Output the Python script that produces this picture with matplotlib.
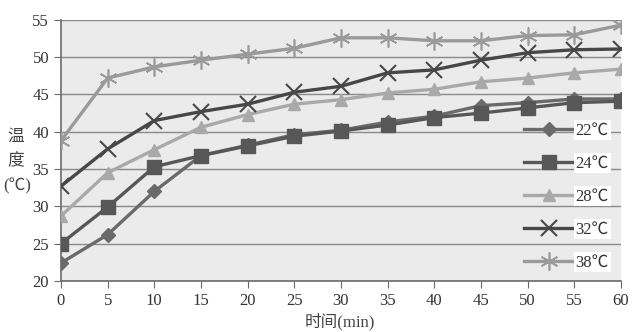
import matplotlib
matplotlib.use("Agg")
import matplotlib.pyplot as plt

time_min = [0, 5, 10, 15, 20, 25, 30, 35, 40, 45, 50, 55, 60]
t22 = [22.4, 26.2, 32.0, 36.8, 38.2, 39.6, 40.2, 41.3, 42.1, 43.5, 43.9, 44.4, 44.4]
t24 = [25.0, 29.9, 35.3, 36.8, 38.1, 39.4, 40.1, 40.9, 41.9, 42.5, 43.2, 43.9, 44.1]
t28 = [28.7, 34.5, 37.6, 40.6, 42.3, 43.7, 44.3, 45.2, 45.7, 46.7, 47.2, 47.9, 48.4]
t32 = [32.7, 37.7, 41.5, 42.7, 43.7, 45.3, 46.1, 47.9, 48.3, 49.6, 50.6, 51.0, 51.1]
t38 = [38.8, 47.2, 48.7, 49.6, 50.4, 51.2, 52.6, 52.6, 52.2, 52.2, 52.9, 53.0, 54.3]
labels = ["22℃", "24℃", "28℃", "32℃", "38℃"]
xticks = [0, 5, 10, 15, 20, 25, 30, 35, 40, 45, 50, 55, 60]
yticks = [20, 25, 30, 35, 40, 45, 50, 55]

plt.rcParams["font.family"] = ["Liberation Serif", "Noto Sans CJK SC", "DejaVu Sans"]
cjk = ["Noto Sans CJK SC", "DejaVu Sans"]

fig = plt.figure(figsize=(6.42, 3.32), dpi=100)
ax = fig.add_axes([0.095, 0.154, 0.872, 0.786])
ax.set_facecolor("#ebebeb")

styles = [
    dict(color="#6a6a6a", marker="D", markersize=7),
    dict(color="#575757", marker="s", markersize=10),
    dict(color="#a9a9a9", marker="^", markersize=9),
    dict(color="#474747", marker="x", markersize=11, markeredgewidth=1.5),
    dict(color="#9a9a9a", marker=(6, 2, 0), markersize=13, markeredgewidth=1.2),
]
series = [t22, t24, t28, t32, t38]
for ys, lab, st in zip(series, labels, styles):
    ax.plot(time_min, ys, linewidth=2.4, label=lab, zorder=3, **st)

ax.set_xlim(0, 60)
ax.set_ylim(20, 55)
ax.set_xticks(xticks)
ax.set_yticks(yticks)
ax.yaxis.grid(True, color="#8a8a8a", linewidth=1.0)
ax.set_axisbelow(True)
for s in ["top", "right"]:
    ax.spines[s].set_visible(False)
ax.spines["left"].set_color("#6a6a6a")
ax.spines["bottom"].set_color("#6a6a6a")
ax.spines["left"].set_linewidth(1.2)
ax.spines["bottom"].set_linewidth(1.2)
ax.tick_params(axis="both", colors="#6a6a6a", length=5, labelsize=12, labelcolor="#333333")

leg = ax.legend(loc="upper left", bbox_to_anchor=(0.80, 0.665), frameon=False,
                handlelength=3.0, handletextpad=0.1, labelspacing=1.02,
                prop={"size": 12})
for t in leg.get_texts():
    t.set_color("#333333")
    t.set_bbox(dict(facecolor="white", edgecolor="none", pad=1.5))

fig.text(0.025, 0.59, "温", family=cjk, fontsize=12, color="#444444", ha="center", va="center")
fig.text(0.025, 0.515, "度", family=cjk, fontsize=12, color="#444444", ha="center", va="center")
fig.text(0.027, 0.44, "(℃)", fontsize=12, color="#444444", ha="center", va="center")
fig.text(0.53, 0.03, "时间(min)", fontsize=12, color="#444444", ha="center", va="center")

fig.savefig("out.png", dpi=100, facecolor="white")
